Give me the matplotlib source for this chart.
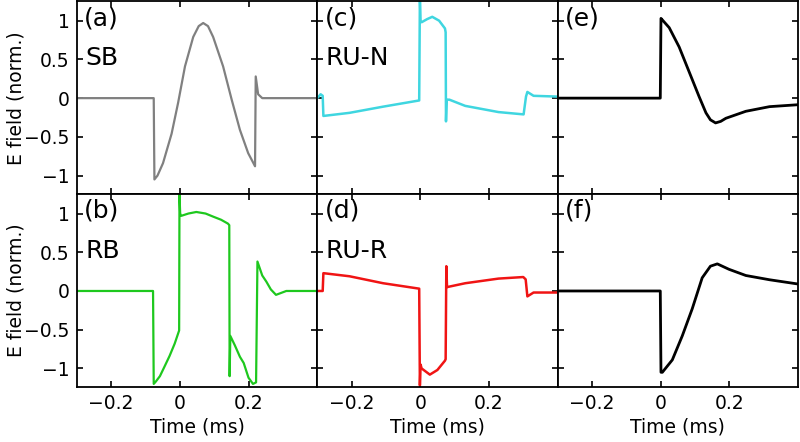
import matplotlib
matplotlib.use('Agg')
import matplotlib.pyplot as plt

# 各面板的波形数据 (时间 ms, 归一化电场)
t_sb = [-0.30, -0.076, -0.074, -0.065, -0.049, -0.024, -0.005, 0.015, 0.039, 0.055,
        0.068, 0.082, 0.097, 0.126, 0.151, 0.175, 0.199, 0.212, 0.219, 0.221, 0.228, 0.24, 0.40]
v_sb = [0.0, 0.0, -1.05, -1.00, -0.84, -0.46, -0.06, 0.41, 0.79, 0.93,
        0.97, 0.93, 0.79, 0.41, -0.02, -0.41, -0.71, -0.82, -0.88, 0.28, 0.05, 0.0, 0.0]

t_rb = [-0.30, -0.078, -0.076, -0.07, -0.058, -0.045, -0.03, -0.015, -0.002, -0.001,
        0.001, 0.004, 0.025, 0.048, 0.075, 0.097, 0.12, 0.14, 0.144, 0.145, 0.147,
        0.16, 0.175, 0.186, 0.2, 0.213, 0.222, 0.226, 0.24, 0.252, 0.265, 0.28, 0.31, 0.40]
v_rb = [0.0, 0.0, -1.20, -1.17, -1.10, -0.98, -0.84, -0.68, -0.51, 1.25,
        1.0, 0.97, 1.0, 1.02, 1.0, 0.96, 0.92, 0.87, 0.85, -1.1, -0.58,
        -0.70, -0.85, -0.93, -1.12, -1.20, -1.18, 0.38, 0.2, 0.12, 0.02, -0.05, 0.0, 0.0]

t_run = [-0.30, -0.29, -0.284, -0.282, -0.206, -0.108, -0.003, -0.001, 0.001, 0.004,
         0.02, 0.035, 0.055, 0.072, 0.074, 0.075, 0.077, 0.085, 0.131, 0.228, 0.301,
         0.308, 0.312, 0.33, 0.40]
v_run = [0.0, 0.05, 0.03, -0.23, -0.19, -0.11, -0.03, 1.3, 1.0, 0.98,
         1.02, 1.05, 1.0, 0.9, 0.85, -0.3, -0.02, -0.02, -0.1, -0.18, -0.21,
         0.02, 0.08, 0.03, 0.02]

t_rur = [-0.30, -0.284, -0.282, -0.206, -0.108, -0.003, -0.001, 0.001, 0.004, 0.028,
         0.05, 0.072, 0.074, 0.076, 0.078, 0.131, 0.228, 0.30, 0.307, 0.312, 0.33, 0.40]
v_rur = [0.0, 0.0, 0.23, 0.19, 0.10, 0.03, -1.22, -0.95, -1.0, -1.08,
         -1.02, -0.9, -0.88, 0.32, 0.05, 0.10, 0.16, 0.18, 0.15, -0.07, -0.02, -0.02]

t_e = [-0.30, -0.001, 0.001, 0.003, 0.025, 0.054, 0.083, 0.112, 0.132, 0.145,
       0.16, 0.175, 0.19, 0.248, 0.317, 0.40]
v_e = [0.0, 0.0, 1.03, 1.02, 0.91, 0.66, 0.34, 0.02, -0.19, -0.28,
       -0.32, -0.30, -0.26, -0.17, -0.11, -0.085]

t_f = [-0.30, -0.001, 0.001, 0.005, 0.034, 0.063, 0.092, 0.121, 0.145, 0.165,
       0.199, 0.248, 0.317, 0.40]
v_f = [0.0, 0.0, -1.05, -1.05, -0.89, -0.58, -0.23, 0.17, 0.32, 0.35,
       0.28, 0.2, 0.145, 0.09]

panels = [
    # (行, 列, 时间, 数值, 颜色, 线宽, 标签, 名称)
    (0, 0, t_sb, v_sb, '#808080', 1.6, '(a)', 'SB'),
    (1, 0, t_rb, v_rb, '#1ec81e', 1.6, '(b)', 'RB'),
    (0, 1, t_run, v_run, '#3fd6e0', 1.8, '(c)', 'RU-N'),
    (1, 1, t_rur, v_rur, '#f01414', 1.8, '(d)', 'RU-R'),
    (0, 2, t_e, v_e, 'black', 2.0, '(e)', ''),
    (1, 2, t_f, v_f, 'black', 2.0, '(f)', ''),
]

fig = plt.figure(figsize=(8, 4.42), dpi=100)
left, right = 0.096, 0.9975
col_w = (right - left) / 3
row_h = 0.4363
row_b = [0.1244 + row_h, 0.1244]

for r, c, t, v, color, lw, lab, name in panels:
    ax = fig.add_axes([left + c * col_w, row_b[r], col_w, row_h])
    ax.plot(t, v, color=color, lw=lw)
    ax.set_xlim(-0.3, 0.4)
    ax.set_ylim(-1.24, 1.25)
    ax.set_xticks([-0.2, 0, 0.2])
    ax.set_yticks([-1, -0.5, 0, 0.5, 1])
    ax.tick_params(direction='in', top=True, right=True, length=4, width=1.2,
                   labelsize=13.5, pad=5)
    for s in ax.spines.values():
        s.set_linewidth(1.3)
    if c == 0:
        ax.set_yticklabels(['\u22121', '\u22120.5', '0', '0.5', '1'])
        ax.set_ylabel('E field (norm.)', fontsize=13.5)
        ax.yaxis.set_label_coords(-0.215, 0.5)
    else:
        ax.set_yticklabels([])
    if r == 1:
        ax.set_xticklabels(['\u22120.2', '0', '0.2'])
        ax.set_xlabel('Time (ms)', fontsize=13.5, labelpad=3)
    else:
        ax.set_xticklabels([])
    ax.text(0.03, 0.975, lab, transform=ax.transAxes, fontsize=18, va='top', ha='left')
    if name:
        ax.text(0.035, 0.77, name, transform=ax.transAxes, fontsize=18, va='top', ha='left')

fig.savefig('out.png', dpi=100)
